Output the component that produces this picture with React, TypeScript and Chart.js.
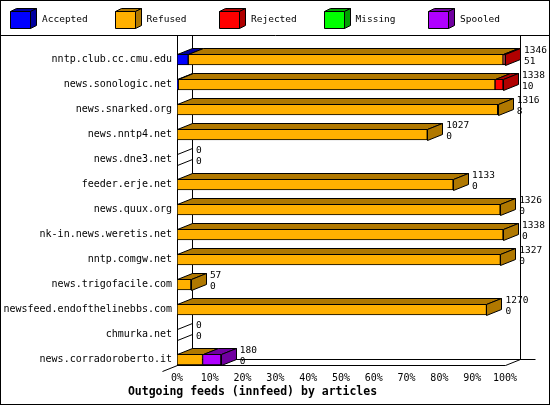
import React, { useEffect, useRef } from 'react';
import { Chart, registerables } from 'chart.js';

Chart.register(...registerables);

// feeds and article counts
const feeds = [
  'nntp.club.cc.cmu.edu',
  'news.sonologic.net',
  'news.snarked.org',
  'news.nntp4.net',
  'news.dne3.net',
  'feeder.erje.net',
  'news.quux.org',
  'nk-in.news.weretis.net',
  'nntp.comgw.net',
  'news.trigofacile.com',
  'newsfeed.endofthelinebbs.com',
  'chmurka.net',
  'news.corradoroberto.it',
];
const accepted = [46, 5, 0, 0, 0, 0, 0, 0, 0, 0, 0, 0, 0];
const refused = [1292, 1300, 1316, 1027, 0, 1133, 1326, 1338, 1327, 57, 1270, 0, 105];
const rejected = [8, 33, 0, 0, 0, 0, 0, 0, 0, 0, 0, 0, 0];
const missing = [0, 0, 0, 0, 0, 0, 0, 0, 0, 0, 0, 0, 0];
const spooled = [0, 0, 0, 0, 0, 0, 0, 0, 0, 0, 0, 0, 75];
const totalLabels = [1346, 1338, 1316, 1027, 0, 1133, 1326, 1338, 1327, 57, 1270, 0, 180];
const secondLabels = [51, 10, 8, 0, 0, 0, 0, 0, 0, 0, 0, 0, 0];

const FONT = "'DejaVu Sans Mono', monospace";
const DX = 15;
const DY = 6;
const BAR = 11;

const series = [
  { label: 'Accepted', values: accepted, color: '#0000ff', dark: '#0000a0' },
  { label: 'Refused', values: refused, color: '#ffb000', dark: '#b07800' },
  { label: 'Rejected', values: rejected, color: '#ff0000', dark: '#b00000' },
  { label: 'Missing', values: missing, color: '#00ff00', dark: '#00a000' },
  { label: 'Spooled', values: spooled, color: '#b000ff', dark: '#7000a0' },
];

const maxTotal = Math.max(...totalLabels);
const p = (v: number) => Math.round(v) + 0.5;

const poly = (ctx: CanvasRenderingContext2D, pts: number[][], fill?: string) => {
  ctx.beginPath();
  pts.forEach(([a, b], k) => (k ? ctx.lineTo(p(a), p(b)) : ctx.moveTo(p(a), p(b))));
  ctx.closePath();
  if (fill) {
    ctx.fillStyle = fill;
    ctx.fill();
  }
  ctx.stroke();
};

const line = (ctx: CanvasRenderingContext2D, a: number, b: number, c: number, d: number) => {
  ctx.beginPath();
  ctx.moveTo(p(a), p(b));
  ctx.lineTo(p(c), p(d));
  ctx.stroke();
};

const cubePlugin = {
  id: 'cube',
  beforeDatasetsDraw(chart: any) {
    const { ctx, scales } = chart;
    const x0 = scales.x.getPixelForValue(0);
    const x1 = scales.x.getPixelForValue(100);
    const floorY = scales.y.getPixelForValue(feeds.length - 1) + BAR / 2;
    ctx.save();
    ctx.strokeStyle = '#000';
    ctx.lineWidth = 1;
    line(ctx, x0, 35, x0, floorY);
    line(ctx, x0 + DX, 35, x0 + DX, floorY - DY);
    line(ctx, x1 + DX, 35, x1 + DX, floorY - DY);
    line(ctx, x0 + DX, floorY - DY, x1 + 2 * DX, floorY - DY);
    line(ctx, x0, floorY, x1, floorY);
    line(ctx, x1, floorY, x1 + DX, floorY - DY);
    line(ctx, x0 - DX, floorY + DY, x0 + DX, floorY - DY);
    ctx.restore();
  },
  afterDatasetsDraw(chart: any) {
    const { ctx, scales } = chart;
    const x0 = scales.x.getPixelForValue(0);
    ctx.save();
    ctx.strokeStyle = '#000';
    ctx.lineWidth = 1;
    feeds.forEach((_, i) => {
      const yc = scales.y.getPixelForValue(i);
      const top = yc - BAR / 2;
      const bot = yc + BAR / 2;
      let endX = x0;
      let dark = '';
      chart.data.datasets.forEach((ds: any, d: number) => {
        if (!(ds.data[i] > 0)) return;
        const el = chart.getDatasetMeta(d).data[i];
        poly(ctx, [[el.base, top], [el.x, top], [el.x + DX, top - DY], [el.base + DX, top - DY]], series[d].dark);
        endX = el.x;
        dark = series[d].dark;
      });
      poly(ctx, [[endX, top], [endX + DX, top - DY], [endX + DX, bot - DY], [endX, bot]], dark || undefined);
      ctx.fillStyle = '#000';
      ctx.font = `9.5px ${FONT}`;
      ctx.textAlign = 'left';
      ctx.textBaseline = 'middle';
      ctx.fillText(String(totalLabels[i]), endX + DX + 4, top - DY + 3);
      ctx.fillText(String(secondLabels[i]), endX + DX + 4, top - DY + 14);
    });
    ctx.restore();
  },
  afterDraw(chart: any) {
    const { ctx, width, height } = chart;
    ctx.save();
    ctx.strokeStyle = '#000';
    ctx.lineWidth = 1;
    ctx.strokeRect(0.5, 0.5, width - 1, height - 1);
    line(ctx, 0, 35, width, 35);
    series.forEach((s, k) => {
      const lx = 10 + k * 104.5;
      poly(ctx, [[lx, 11], [lx + 20, 11], [lx + 20, 28], [lx, 28]], s.color);
      poly(ctx, [[lx, 11], [lx + 20, 11], [lx + 26, 8], [lx + 6, 8]], s.dark);
      poly(ctx, [[lx + 20, 11], [lx + 26, 8], [lx + 26, 25], [lx + 20, 28]], s.dark);
      ctx.fillStyle = '#000';
      ctx.font = `9.5px ${FONT}`;
      ctx.textAlign = 'left';
      ctx.textBaseline = 'middle';
      ctx.fillText(s.label, lx + 32, 20);
    });
    ctx.restore();
  },
};

const App = () => {
  const chartRef = useRef<HTMLCanvasElement>(null);
  const chartInstance = useRef<Chart | null>(null);

  useEffect(() => {
    if (chartInstance.current) chartInstance.current.destroy();
    const ctx = chartRef.current?.getContext('2d');
    if (!ctx) return;

    chartInstance.current = new Chart(ctx, {
      type: 'bar',
      data: {
        labels: feeds,
        datasets: series.map((s) => ({
          label: s.label,
          data: s.values.map((v) => (v / maxTotal) * 100),
          backgroundColor: s.color,
          borderColor: '#000',
          borderWidth: 1,
          borderSkipped: false,
          barThickness: BAR,
        })),
      },
      options: {
        indexAxis: 'y',
        responsive: false,
        animation: false,
        layout: { padding: { top: 47, right: 45, left: 0, bottom: 6 } },
        plugins: {
          legend: { display: false },
          tooltip: { enabled: false },
          title: {
            display: true,
            position: 'bottom',
            text: 'Outgoing feeds (innfeed) by articles',
            color: '#000',
            font: { family: FONT, size: 11.5, weight: 'bold' },
            padding: { top: 0, bottom: 0 },
          },
        },
        scales: {
          x: {
            stacked: true,
            min: 0,
            max: 100,
            grid: { display: false, drawTicks: false },
            border: { display: false },
            ticks: {
              stepSize: 10,
              padding: 0,
              color: '#000',
              font: { family: FONT, size: 10 },
              callback: (v: any) => `${v}%`,
            },
            afterFit: (scale: any) => {
              scale.height = 13.2;
            },
          },
          y: {
            stacked: true,
            grid: { display: false, drawTicks: false },
            border: { display: false },
            ticks: { padding: 5, color: '#000', font: { family: FONT, size: 10 }, autoSkip: false },
            afterFit: (scale: any) => {
              scale.width = 177;
            },
          },
        },
      },
      plugins: [cubePlugin],
    });

    return () => {
      if (chartInstance.current) chartInstance.current.destroy();
    };
  }, []);

  return (
    <div style={{ position: 'fixed', left: 0, top: 0, width: 550, height: 405, background: '#fff' }}>
      <canvas ref={chartRef} width={550} height={405} />
    </div>
  );
};

export default App;
